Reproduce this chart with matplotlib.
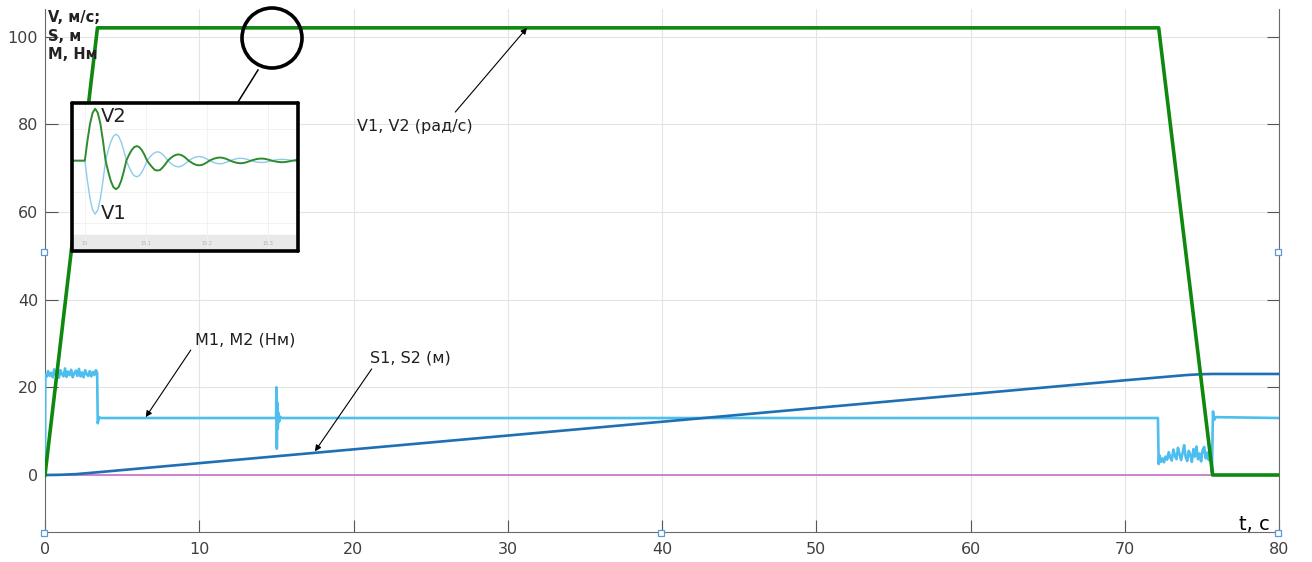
import numpy as np
import matplotlib.pyplot as plt
from matplotlib.patches import Circle
from matplotlib.lines import Line2D

# --- data ---
t_v = [0, 3.4, 72.2, 75.7, 80]
v = [0, 102, 102, 0, 0]

t_s = [0, 1, 2, 3.4, 10, 20, 30, 40, 50, 60, 70, 72, 73, 74, 75, 75.7, 80]
s = [0, 0.05, 0.2, 0.62, 2.7, 5.85, 9.0, 12.15, 15.3, 18.45, 21.6, 22.2, 22.5, 22.8, 23.0, 23.05, 23.05]

t_mag = [0, 75.7]
mag = [0, 0]

# M1, M2: start-up noise, level 13, spike at 15 s, braking noise
m_start = [22.4, 23.7, 22.6, 23.3, 22.3, 24.1, 22.8, 23.4, 22.2, 23.9, 23.0, 22.5,
           24.3, 22.4, 23.6, 22.8, 24.0, 22.3, 23.2, 23.8, 22.6, 24.2, 22.5, 23.4,
           22.3, 23.9, 23.0, 22.6, 23.7, 22.5, 23.5, 22.8, 23.9]
m_brake = [4.5, 3.0, 3.8, 2.9, 4.2, 3.5, 5.2, 4.0, 3.3, 5.8, 4.4, 3.6, 6.2, 4.8,
           3.4, 5.0, 6.8, 4.1, 3.2, 5.5, 4.6, 3.0, 5.9, 4.2, 6.5, 3.6, 4.9, 3.1,
           5.7, 6.4, 3.8, 5.1, 3.4, 6.0]
t_spike = [14.98, 15.0, 15.03, 15.06, 15.09, 15.13, 15.18, 15.25, 15.35]
m_spike = [13, 20, 6.0, 16.5, 10.5, 14.2, 12.2, 13.3, 13]

t_m = ([0, 0.02] + list(np.round(np.arange(0.1, 3.35, 0.1), 2)) + [3.38, 3.42, 3.5, 3.6]
       + t_spike + [72.15, 72.2] + list(np.round(np.arange(72.25, 75.6, 0.1), 2))
       + [75.65, 75.72, 75.8, 75.9, 80])
m = ([0, 23] + m_start + [23.3, 11.8, 13.2, 13] + m_spike + [13, 2.5] + m_brake
     + [0.5, 14.5, 12.6, 13.2, 13])

# inset: damped oscillation of V1, V2 around 15 s (normalised), sampled every 4.25 ms
t_in = [14.98, 14.99] + list(15 + 0.00425 * np.arange(83))
v2_in = [0, 0,
         0, .38, .71, .92, 1.0, .92, .71, .38,
         0, -.21, -.39, -.51, -.55, -.51, -.39, -.21,
         0, .11, .20, .26, .28, .26, .20, .11,
         0, -.07, -.13, -.18, -.19, -.18, -.13, -.07,
         0, .046, .085, .11, .12, .11, .085, .046,
         0, -.034, -.064, -.083, -.09, -.083, -.064, -.034,
         0, .023, .042, .055, .06, .055, .042, .023,
         0, -.019, -.035, -.046, -.05, -.046, -.035, -.019,
         0, .015, .028, .037, .04, .037, .028, .015,
         0, -.011, -.021, -.028, -.03, -.028, -.021, -.011,
         0, .008, .014]
v1_in = [0, 0,
         0, -.39, -.73, -.95, -1.03, -.95, -.73, -.39,
         0, .20, .36, .47, .51, .47, .36, .20,
         0, -.12, -.22, -.29, -.31, -.29, -.22, -.12,
         0, .065, .12, .157, .17, .157, .12, .065,
         0, -.046, -.085, -.11, -.12, -.11, -.085, -.046,
         0, .031, .057, .074, .08, .074, .057, .031,
         0, -.023, -.042, -.055, -.06, -.055, -.042, -.023,
         0, .017, .032, .042, .045, .042, .032, .017,
         0, -.013, -.025, -.032, -.035, -.032, -.025, -.013,
         0, .01, .018, .023, .025, .023, .018, .01,
         0, -.008, -.014]
inset_ticks = [15, 15.1, 15.2, 15.3]

xticks = np.arange(0, 81, 10)
yticks = np.arange(0, 101, 20)

green = '#0e880e'
lblue = '#4dbeee'
dblue = '#1f6fb5'
pink = '#cc79cc'

fig = plt.figure(figsize=(13.12, 5.62), dpi=100)
ax = fig.add_axes([45 / 1312, 1 - 532.3 / 562, 1234 / 1312, 523.3 / 562])

ax.plot(t_mag, mag, color=pink, lw=1.3, zorder=2)
ax.plot(t_m, m, color=lblue, lw=1.9, zorder=3)
ax.plot(t_s, s, color=dblue, lw=1.9, zorder=4)
ax.plot(t_v, v, color=green, lw=2.6, zorder=5)

ax.set_xlim(0, 80)
ax.set_ylim(-13.07, 106.3)
ax.set_xticks(xticks)
ax.set_yticks(yticks)
ax.grid(True, color='#e4e4e4', lw=0.8)
ax.set_axisbelow(True)
ax.tick_params(direction='in', length=9, width=0.8, color='#555555',
               labelsize=11.5, labelcolor='#404040', right=True)
ax.tick_params(axis='x', pad=7)
ax.tick_params(axis='y', pad=5)
for side in ['left', 'bottom', 'right']:
    ax.spines[side].set_color('#6a6a6a')
ax.spines['top'].set_visible(False)

# annotations
arr = dict(arrowstyle='-|>', lw=0.8, color='black', mutation_scale=9, shrinkA=0, shrinkB=0)
ax.annotate('', xy=(31.25, 102), xytext=(26.6, 82.8), arrowprops=arr, zorder=6)
ax.text(24.0, 79.4, 'V1, V2 (рад/с)', fontsize=11.5, ha='center', va='center', color='#202020')
ax.annotate('', xy=(6.53, 13.2), xytext=(9.45, 28.5), arrowprops=arr, zorder=6)
ax.text(12.97, 30.8, 'M1, M2 (Нм)', fontsize=11.5, ha='center', va='center', color='#202020')
ax.annotate('', xy=(17.5, 5.4), xytext=(21.18, 24.2), arrowprops=arr, zorder=6)
ax.text(23.66, 26.7, 'S1, S2 (м)', fontsize=11.5, ha='center', va='center', color='#202020')

fig.text(48 / 1312, 1 - 10 / 562, 'V, м/с;\nS, м\nM, Нм', fontsize=10.5, fontweight='bold',
         ha='left', va='top', linespacing=1.3, color='#222222')
fig.text(1270 / 1312, 1 - 530 / 562, 't, с', fontsize=14, ha='right', va='baseline', color='black')

# zoom circle and connector
fig.add_artist(Circle((2.72, 5.24), 0.30, transform=fig.dpi_scale_trans,
                      fill=False, lw=2.6, color='black', zorder=10))
fig.add_artist(Line2D([2.58, 2.38], [4.92, 4.6], transform=fig.dpi_scale_trans,
                      color='black', lw=1.1, zorder=10))

# inset
axi = fig.add_axes([72 / 1312, 1 - 251 / 562, 226 / 1312, 148 / 562], zorder=11)
axi.set_facecolor('white')
axi.axhspan(-1.74, -1.44, color='#e9e9e9', zorder=0)
axi.plot(t_in, v1_in, color='#8ecbea', lw=1.0)
axi.plot(t_in, v2_in, color='#2e8b2e', lw=1.4)
axi.set_xlim(14.979, 15.349)
axi.set_ylim(-1.74, 1.11)
axi.set_xticks(inset_ticks)
axi.set_yticks([-1.2, -0.6, 0.6])
axi.grid(True, color='#f0f0f0', lw=0.6)
axi.tick_params(length=0, labelbottom=False, labelleft=False)
for tk in inset_ticks:
    axi.text(tk, -1.59, str(tk), fontsize=3.5, color='#b0b0b0', ha='center', va='center')
axi.text(15.027, 0.85, 'V2', fontsize=14, color='#202020', ha='left', va='center')
axi.text(15.027, -1.02, 'V1', fontsize=14, color='#202020', ha='left', va='center')
for sp in axi.spines.values():
    sp.set_linewidth(2.6)
    sp.set_color('black')
    sp.set_capstyle('round')
    sp.set_joinstyle('round')

# editor selection handles
hx = [44, 44, 661, 1278, 1278]
hy = [252, 533, 533, 533, 252]
fig.add_artist(Line2D([x / 1312 for x in hx], [1 - y / 562 for y in hy], transform=fig.transFigure,
                      ls='none', marker='s', ms=4, mfc='white', mec='#5b9bd5', mew=0.9, zorder=12))

fig.savefig('out.png', dpi=100)
